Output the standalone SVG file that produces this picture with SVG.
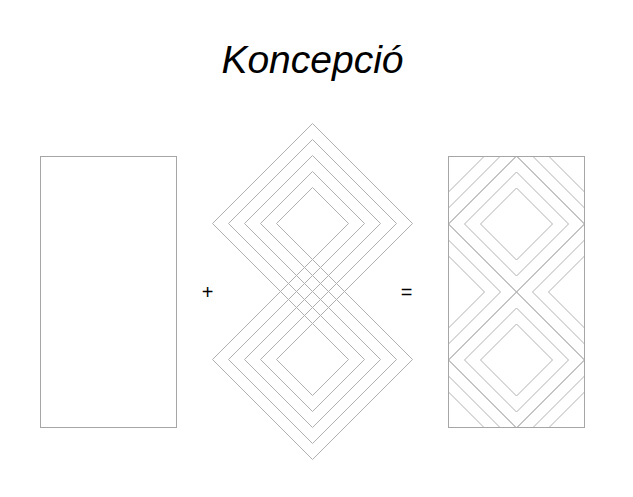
<svg xmlns="http://www.w3.org/2000/svg" width="633" height="497" viewBox="0 0 633 497">
<style>
.frame{fill:none;stroke:#a6a6a6;stroke-width:1}
.d{fill:none;stroke:#b0b0b0;stroke-width:1}
.lbl{font-family:"Liberation Sans",Arial,sans-serif;fill:#000}
</style>
<defs>
<g id="d5" class="d">
<path d="M0,-36L36,0L0,36L-36,0Z"/>
<path d="M0,-52L52,0L0,52L-52,0Z"/>
<path d="M0,-68L68,0L0,68L-68,0Z"/>
<path d="M0,-84L84,0L0,84L-84,0Z"/>
<path d="M0,-100L100,0L0,100L-100,0Z"/>
</g>
<g id="d3" class="d">
<path d="M0,-36L36,0L0,36L-36,0Z"/>
<path d="M0,-52L52,0L0,52L-52,0Z"/>
<path d="M0,-68L68,0L0,68L-68,0Z"/>
</g>
<clipPath id="rc"><rect x="448.5" y="156.5" width="136" height="271"/></clipPath>
</defs>
<text id="title" class="lbl" x="312.5" y="73" font-size="39" font-style="italic" text-anchor="middle">Koncepció</text>
<g id="left-rect"><rect class="frame" x="40.5" y="156.5" width="136" height="271"/></g>
<g id="plus"><text class="lbl" x="207.5" y="299" font-size="20" text-anchor="middle">+</text></g>
<g id="middle">
<use href="#d5" x="312.5" y="223.5"/>
<use href="#d5" x="312.5" y="359.5"/>
</g>
<g id="equals"><text class="lbl" x="406.5" y="299" font-size="20" text-anchor="middle">=</text></g>
<g id="right">
<g clip-path="url(#rc)">
<use href="#d3" x="516.5" y="224"/>
<use href="#d3" x="516.5" y="360"/>
<use href="#d3" x="448.5" y="156"/>
<use href="#d3" x="584.5" y="156"/>
<use href="#d3" x="448.5" y="292"/>
<use href="#d3" x="584.5" y="292"/>
<use href="#d3" x="448.5" y="428"/>
<use href="#d3" x="584.5" y="428"/>
</g>
<rect class="frame" x="448.5" y="156.5" width="136" height="271"/>
</g>
<g id="connectors"/>
</svg>
